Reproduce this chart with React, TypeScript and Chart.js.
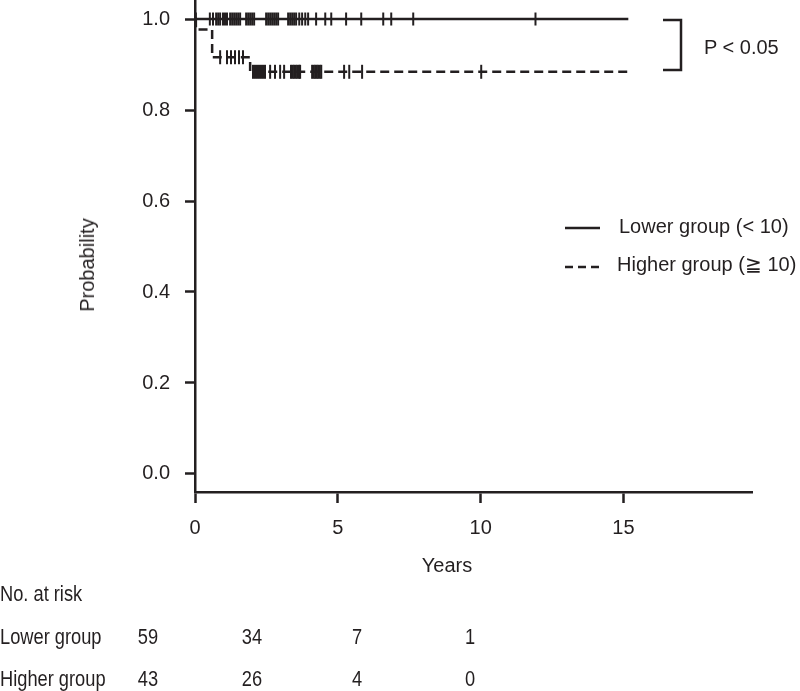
import React, { useEffect, useRef } from "react";
import { Chart, registerables } from "chart.js";

Chart.register(...registerables);

// ---- data ----
const xTicks = [0, 5, 10, 15];
const yTicks = [0, 0.2, 0.4, 0.6, 0.8, 1.0];

const lowerTimes = [0, 15.17];
const lowerSurv = [1, 1];
const higherTimes = [0, 0.03, 0.6, 1.93, 15.17];
const higherSurv = [1, 0.977, 0.916, 0.884, 0.884];

const lowerCensor = [
  0.03, 0.52, 0.63, 0.74, 0.81, 0.88, 0.98, 1.05, 1.12, 1.23, 1.3, 1.37, 1.44,
  1.51, 1.58, 1.79, 1.86, 1.93, 2.0, 2.07, 2.49, 2.56, 2.63, 2.7, 2.77, 2.84,
  2.91, 3.26, 3.33, 3.4, 3.47, 3.54, 3.65, 3.75, 3.86, 3.96, 4.24, 4.56, 4.77,
  5.29, 5.82, 6.59, 6.87, 7.64, 11.92,
];
const higherCensor = [
  0.88, 1.12, 1.26, 1.4, 1.54, 1.68, 2.03, 2.1, 2.17, 2.24, 2.31, 2.38, 2.45,
  2.63, 2.8, 2.98, 3.12, 3.36, 3.42, 3.47, 3.53, 3.58, 3.64, 3.68, 4.1, 4.16,
  4.21, 4.26, 4.31, 4.37, 4.42, 5.22, 5.4, 5.85, 10.02,
];

const groupNames = ["Lower group", "Higher group"];
const legendLabels = ["Lower group (< 10)", "Higher group (\u2267 10)"];
const lowerAtRisk = [59, 34, 7, 1];
const higherAtRisk = [43, 26, 4, 0];
const pValueText = "P < 0.05";

const INK = "#231f20";
const FONT = '"Liberation Sans", Arial, Helvetica, sans-serif';

function survAt(times: number[], surv: number[], t: number) {
  let s = surv[0];
  for (let i = 0; i < times.length; i++) {
    if (times[i] <= t) s = surv[i];
  }
  return s;
}

const annotPlugin = {
  id: "annot",
  afterDraw(chart: any) {
    const ctx = chart.ctx;
    ctx.save();
    ctx.strokeStyle = INK;
    ctx.lineWidth = 2.5;
    // bracket
    ctx.beginPath();
    ctx.moveTo(663, 20);
    ctx.lineTo(681, 20);
    ctx.lineTo(681, 70);
    ctx.lineTo(663, 70);
    ctx.stroke();
    // legend samples
    ctx.beginPath();
    ctx.moveTo(565, 228);
    ctx.lineTo(600, 228);
    ctx.stroke();
    ctx.setLineDash([8, 5]);
    ctx.beginPath();
    ctx.moveTo(565, 267);
    ctx.lineTo(600, 267);
    ctx.stroke();
    ctx.restore();
  },
};

function Txt(props: {
  x: number;
  y: number;
  size: number;
  text: string;
  align?: "left" | "center";
  sx?: number;
}) {
  const { x, y, size, text, align = "left", sx = 1 } = props;
  const tx = align === "center" ? "translateX(-50%)" : "";
  return (
    <div
      style={{
        position: "absolute",
        left: x,
        top: y - 0.49 * size,
        fontSize: size,
        lineHeight: `${size}px`,
        fontFamily: FONT,
        color: INK,
        whiteSpace: "nowrap",
        transform: `${tx} scaleX(${sx})`,
        transformOrigin: align === "center" ? "50% 50%" : "0 50%",
      }}
    >
      {text}
    </div>
  );
}

export default function App() {
  const ref = useRef<HTMLCanvasElement | null>(null);

  useEffect(() => {
    if (!ref.current) return;
    const lowerLine = lowerTimes.map((t, i) => ({ x: t, y: lowerSurv[i] }));
    const higherLine = higherTimes.map((t, i) => ({ x: t, y: higherSurv[i] }));
    const lowerMarks = lowerCensor.map((t) => ({
      x: t,
      y: survAt(lowerTimes, lowerSurv, t),
    }));
    const higherMarks = higherCensor.map((t) => ({
      x: t,
      y: survAt(higherTimes, higherSurv, t),
    }));

    const chart = new Chart(ref.current, {
      type: "line",
      data: {
        datasets: [
          {
            data: lowerLine,
            borderColor: INK,
            borderWidth: 2.5,
            stepped: "before",
            pointRadius: 0,
            fill: false,
          },
          {
            data: higherLine,
            borderColor: INK,
            borderWidth: 2.5,
            borderDash: [9, 5],
            stepped: "before",
            pointRadius: 0,
            fill: false,
          },
          {
            data: lowerMarks,
            showLine: false,
            pointStyle: "line",
            rotation: 90,
            pointRadius: 6.5,
            pointBorderWidth: 2,
            pointBorderColor: INK,
            pointBackgroundColor: INK,
          },
          {
            data: higherMarks,
            showLine: false,
            pointStyle: "line",
            rotation: 90,
            pointRadius: 7,
            pointBorderWidth: 2,
            pointBorderColor: INK,
            pointBackgroundColor: INK,
          },
        ],
      } as any,
      options: {
        animation: false,
        responsive: false,
        devicePixelRatio: 1,
        layout: {
          autoPadding: false,
          padding: { left: 0, right: 48, top: 0, bottom: 0 },
        },
        plugins: {
          legend: { display: false },
          tooltip: { enabled: false },
        },
        scales: {
          x: {
            type: "linear",
            min: 0,
            max: 19.5,
            afterBuildTicks: (s: any) => {
              s.ticks = xTicks.map((v) => ({ value: v }));
            },
            afterFit: (s: any) => {
              s.height = 199;
              s.paddingLeft = 0;
              s.paddingRight = 0;
              s.paddingTop = 0;
              s.paddingBottom = 0;
            },
            ticks: {
              font: { family: FONT, size: 20 },
              color: INK,
              padding: 13,
              maxRotation: 0,
              callback: (v: any) => String(v),
            },
            grid: {
              drawOnChartArea: false,
              drawTicks: true,
              tickLength: 11,
              tickWidth: 2.5,
              tickColor: INK,
            },
            border: { display: true, color: INK, width: 2.5 },
          },
          y: {
            type: "linear",
            min: -0.0396,
            max: 1.0418,
            afterBuildTicks: (s: any) => {
              s.ticks = yTicks.map((v) => ({ value: v }));
            },
            afterFit: (s: any) => {
              s.width = 195;
              s.paddingLeft = 0;
              s.paddingRight = 0;
              s.paddingTop = 0;
              s.paddingBottom = 0;
            },
            ticks: {
              font: { family: FONT, size: 20 },
              color: INK,
              padding: 15,
              callback: (v: any) => Number(v).toFixed(1),
            },
            grid: {
              drawOnChartArea: false,
              drawTicks: true,
              tickLength: 10,
              tickWidth: 2.5,
              tickColor: INK,
            },
            border: { display: true, color: INK, width: 2.5 },
          },
        },
      } as any,
      plugins: [annotPlugin],
    });
    return () => chart.destroy();
  }, []);

  const colX = [148, 252, 357, 470];
  const TS = 22;
  const SX = 0.83;

  return (
    <div
      style={{
        position: "absolute",
        left: 0,
        top: 0,
        width: 800,
        height: 691,
        background: "#fff",
        overflow: "hidden",
      }}
    >
      <canvas
        ref={ref}
        width={800}
        height={691}
        style={{ position: "absolute", left: 0, top: 0, width: 800, height: 691 }}
      />
      <div
        style={{
          position: "absolute",
          left: 87,
          top: 265,
          fontSize: 20,
          lineHeight: "20px",
          fontFamily: FONT,
          color: INK,
          whiteSpace: "nowrap",
          transform: "translate(-50%, -50%) rotate(-90deg)",
        }}
      >
        Probability
      </div>
      <Txt x={447} y={565} size={20} text="Years" align="center" />
      <Txt x={704} y={47} size={20} text={pValueText} />
      <Txt x={619} y={226} size={20} text={legendLabels[0]} />
      <Txt x={617} y={264} size={20} text={legendLabels[1]} />
      <Txt x={0} y={594} size={TS} text="No. at risk" sx={SX} />
      <Txt x={0} y={637} size={TS} text={groupNames[0]} sx={SX} />
      <Txt x={0} y={679} size={TS} text={groupNames[1]} sx={SX} />
      {lowerAtRisk.map((n, i) => (
        <Txt key={"l" + i} x={colX[i]} y={637} size={TS} text={String(n)} align="center" sx={SX} />
      ))}
      {higherAtRisk.map((n, i) => (
        <Txt key={"h" + i} x={colX[i]} y={679} size={TS} text={String(n)} align="center" sx={SX} />
      ))}
    </div>
  );
}
